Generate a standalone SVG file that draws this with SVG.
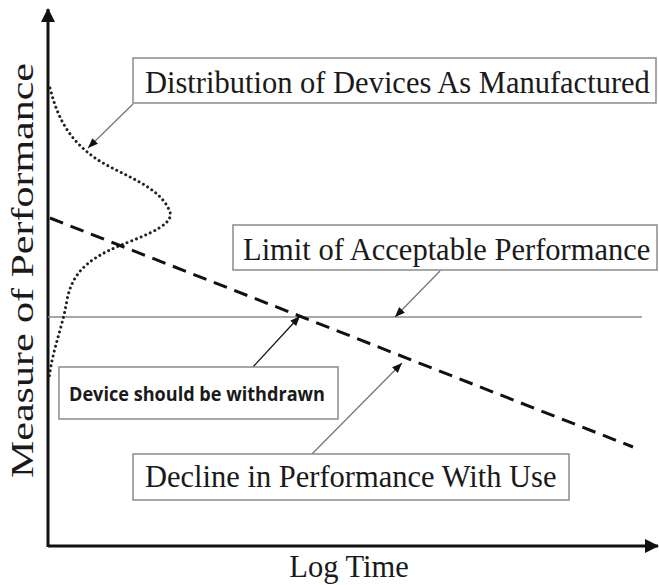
<svg xmlns="http://www.w3.org/2000/svg" width="659" height="585" viewBox="0 0 659 585">
<style>
.box{fill:#fff;stroke:#8a8a8a;stroke-width:1.5}
.serif{font-family:"Liberation Serif","Times New Roman",serif;font-size:30.5px;fill:#1a1a1a}
.bold{font-family:"Open Sans","Noto Sans",sans-serif;font-weight:700;font-size:20px;fill:#1a1a1a}
.axis{stroke:#111;stroke-width:3;fill:none}
.call{stroke:#777;stroke-width:1.3;fill:none}
</style>
<defs>
<marker id="ah" viewBox="0 0 10 8" refX="10" refY="4" markerWidth="11" markerHeight="8" markerUnits="userSpaceOnUse" orient="auto">
<path d="M0,0 L10,4 L0,8 z" fill="#111"/>
</marker>
<marker id="axh" viewBox="0 0 14 14" refX="13" refY="7" markerWidth="14" markerHeight="14" markerUnits="userSpaceOnUse" orient="auto">
<path d="M0,0 L14,7 L0,14 z" fill="#111"/>
</marker>
</defs>
<g id="axes">
<line class="axis" x1="48" y1="547" x2="48" y2="9" marker-end="url(#axh)"/>
<line class="axis" x1="48" y1="546" x2="658" y2="546" marker-end="url(#axh)"/>
</g>
<g id="curves">
<line x1="48" y1="317" x2="642" y2="317" stroke="#8a8a8a" stroke-width="1.5"/>
<path d="M50,88 C58,120 70,140 95,158 C120,175 160,185 170,212 C175,228 130,240 110,250 C85,262 72,275 67,300 C62,330 52,350 49,380" fill="none" stroke="#222" stroke-width="3" stroke-linecap="round" stroke-dasharray="0.01 5"/>
<line x1="50" y1="218" x2="633" y2="447" stroke="#111" stroke-width="3" stroke-dasharray="14 8"/>
</g>
<g id="connectors">
<line class="call" x1="133" y1="104" x2="88" y2="148" marker-end="url(#ah)"/>
<line class="call" x1="440" y1="271" x2="395" y2="317" marker-end="url(#ah)"/>
<line x1="253" y1="367" x2="300" y2="316" stroke="#111" stroke-width="1.3" marker-end="url(#ah)"/>
<line class="call" x1="312" y1="454" x2="402" y2="363" marker-end="url(#ah)"/>
</g>
<g id="distribution">
<rect class="box" x="133" y="58" width="523" height="45"/>
<text class="serif" x="145" y="93">Distribution of Devices As Manufactured</text>
</g>
<g id="limit">
<rect class="box" x="233" y="225" width="424" height="45"/>
<text class="serif" x="243" y="260">Limit of Acceptable Performance</text>
</g>
<g id="withdrawn">
<rect class="box" x="59" y="367" width="279" height="52"/>
<text class="bold" x="69" y="401" textLength="256" lengthAdjust="spacingAndGlyphs">Device should be withdrawn</text>
</g>
<g id="decline">
<rect class="box" x="133" y="454" width="436" height="46"/>
<text class="serif" x="145" y="487">Decline in Performance With Use</text>
</g>
<g id="labels">
<text class="serif" x="349" y="577" text-anchor="middle">Log Time</text>
<text class="serif" transform="translate(33,478) rotate(-90)" x="0" y="0" textLength="415" lengthAdjust="spacingAndGlyphs">Measure  of  Performance</text>
</g>
</svg>
